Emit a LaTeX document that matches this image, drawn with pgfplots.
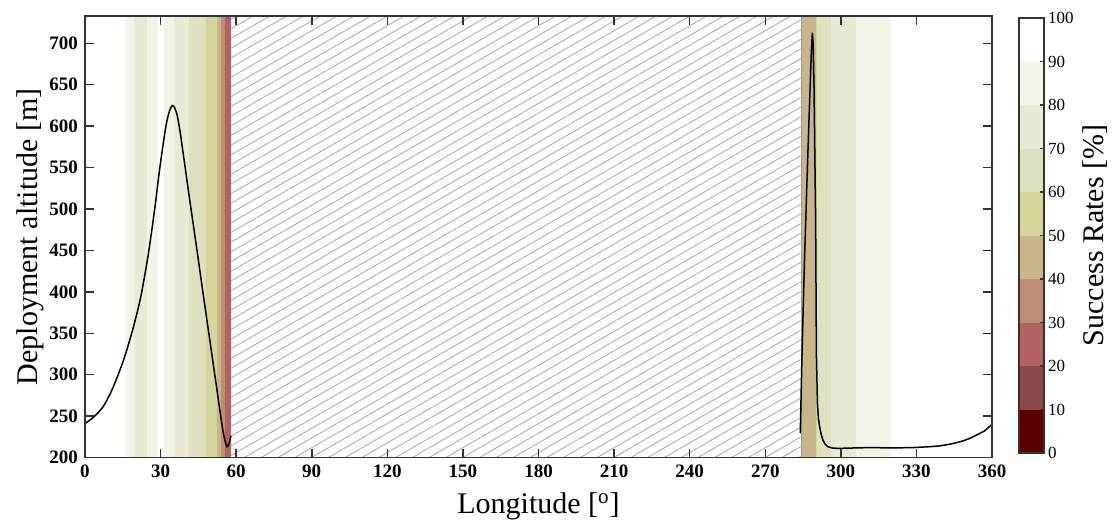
\documentclass[border=0pt]{standalone}
\usepackage{fontspec}
\setmainfont{Liberation Serif}
\usepackage{pgfplots}
\pgfplotsset{compat=1.18}
\usetikzlibrary{patterns.meta}

% success-rate classes (0-10, 10-20, ... 90-100)
\definecolor{sr0}{RGB}{90,0,0}
\definecolor{sr1}{RGB}{139,72,72}
\definecolor{sr2}{RGB}{176,98,98}
\definecolor{sr3}{RGB}{189,142,116}
\definecolor{sr4}{RGB}{200,181,138}
\definecolor{sr5}{RGB}{213,213,155}
\definecolor{sr6}{RGB}{223,224,191}
\definecolor{sr7}{RGB}{233,233,214}
\definecolor{sr8}{RGB}{243,243,232}
\definecolor{sr9}{RGB}{255,255,255}

% vertical band in the main axis: from, to, colour
\newcommand{\band}[3]{\addplot[draw=none, fill=#3, forget plot]
  coordinates {(#1,200) (#1,733) (#2,733) (#2,200)} -- cycle;}
% class cell in the colour bar: from, to, colour
\newcommand{\cell}[3]{\addplot[draw=none, fill=#3, forget plot]
  coordinates {(0,#1) (1,#1) (1,#2) (0,#2)} -- cycle;}

\begin{document}
\begin{tikzpicture}
\begin{axis}[
    scale only axis,
    width=453.5pt, height=220.75pt,
    xmin=0, xmax=360, ymin=200, ymax=733,
    xtick={0,30,...,360}, ytick={200,250,...,700},
    xtick pos=both, ytick pos=both,
    xticklabel pos=left, yticklabel pos=left,
    tick align=inside, major tick length=4.5pt,
    axis line style={draw=black!80, line width=0.75pt},
    every tick/.style={draw=black!80, line width=0.75pt},
    axis on top,
    /pgf/number format/assume math mode=true,
    tick label style={font=\bfseries\fontsize{9.5}{9.5}\selectfont},
    xlabel={Longitude [\textsuperscript{o}]},
    ylabel={Deployment altitude [m]},
    every axis x label/.style={at={(axis description cs:0.5,0)}, anchor=center,
        yshift=-24.5pt, font=\fontsize{15}{15}\selectfont},
    every axis y label/.style={at={(axis description cs:-0.0606,0.5)}, anchor=center,
        rotate=90, font=\fontsize{15}{15}\selectfont},
]
% no-data region
\addplot[draw=none, forget plot,
    pattern={Lines[angle=30, distance=4.2pt, line width=0.45pt]},
    pattern color=black!32]
  coordinates {(57.9,200) (57.9,733) (284.0,733) (284.0,200)} -- cycle;

% success-rate bands, western lobe
\band{15.8}{19.5}{sr8}
\band{19.5}{24.5}{sr7}
\band{24.5}{29.0}{sr8}
\band{31.4}{35.4}{sr8}
\band{35.4}{41.3}{sr7}
\band{41.3}{48.0}{sr6}
\band{48.0}{52.2}{sr5}
\band{52.2}{53.9}{sr4}
\band{53.9}{55.5}{sr3}
\band{55.5}{57.9}{sr2}
% success-rate bands, eastern lobe
\band{284.0}{284.6}{sr3}
\band{284.6}{290.0}{sr4}
\band{290.0}{290.7}{sr5}
\band{290.7}{296.0}{sr6}
\band{296.0}{305.9}{sr7}
\band{305.9}{319.8}{sr8}

% deployment altitude
\addplot[black, line width=0.75pt, smooth, tension=0.5] coordinates {
  (0,241) (3.5,249) (7.1,261) (10,277) (12.4,294) (15,315) (17.0,334)
  (18.9,354) (20.7,375) (22.2,395) (23.6,418) (25.0,443) (26.5,474)
  (28.0,508) (29.5,545) (31.0,578) (32.3,603) (33.5,618) (34.6,625)
  (35.6,622) (36.6,613) (37.8,592) (39.3,560) (41.0,523) (42.8,485)
  (44.6,447) (46.4,408) (48.2,370) (50.0,332) (51.7,296) (53.3,262)
  (54.6,235) (55.6,220) (56.4,213) (57.1,216) (57.9,226)
};
\addplot[black, line width=0.75pt] coordinates {
  (283.9,229) (284.6,326) (285.5,430) (286.5,528) (287.5,620) (288.3,690)
  (288.7,713) (289.0,700) (289.35,648) (289.7,560) (290.0,487) (290.3,326)
  (290.7,266) (291.1,247) (291.6,237) (292.2,228) (292.9,221) (293.8,216)
  (294.9,213) (296.5,211.5) (299,211) (305,211.5) (312,212) (320,211.5)
  (328.7,212) (335,213) (339.3,214) (344,216.5) (348.5,220) (351.5,223.5)
  (353.8,227) (357,232) (360,240)
};
\end{axis}

% colour bar
\begin{axis}[
    at={(467pt,2.25pt)}, anchor=south west,
    scale only axis,
    width=12.5pt, height=217.5pt,
    xmin=0, xmax=1, ymin=0, ymax=100,
    xtick=\empty, ytick={0,10,...,100},
    ytick pos=right, yticklabel pos=right,
    tick align=inside, major tick length=2pt,
    axis line style={draw=black!80, line width=0.75pt},
    every tick/.style={draw=black!80, line width=0.6pt},
    axis on top,
    /pgf/number format/assume math mode=true,
    tick label style={font=\fontsize{8.5}{8.5}\selectfont},
    yticklabel style={xshift=-1.5pt},
    ylabel={Success Rates [\%]},
    every axis y label/.style={at={(axis description cs:3.04,0.5)}, anchor=center,
        rotate=90, font=\fontsize{15}{15}\selectfont},
]
\cell{0}{10}{sr0}
\cell{10}{20}{sr1}
\cell{20}{30}{sr2}
\cell{30}{40}{sr3}
\cell{40}{50}{sr4}
\cell{50}{60}{sr5}
\cell{60}{70}{sr6}
\cell{70}{80}{sr7}
\cell{80}{90}{sr8}
\cell{90}{100}{sr9}
\end{axis}

\pgfresetboundingbox
\path[use as bounding box] (-42.5pt,-31.75pt) rectangle (515pt,228.75pt);
\end{tikzpicture}
\end{document}
